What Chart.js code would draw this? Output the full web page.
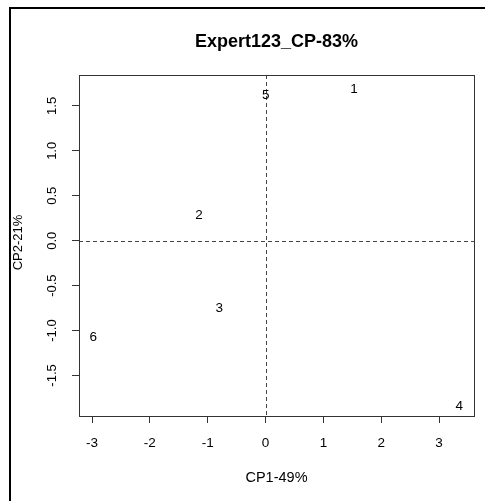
<!DOCTYPE html>
<html><head><meta charset="utf-8">
<script src="https://cdn.jsdelivr.net/npm/chart.js@4"></script>
<style>html,body{margin:0;padding:0;background:#fff;overflow:hidden}#wrap{width:485px;height:501px;position:relative}</style>
</head><body><div id="wrap"><canvas id="c" width="485" height="501"></canvas></div>
<script>
const pointLabels = ['1','2','3','4','5','6'];
const cp1 = [1.53, -1.15, -0.80, 3.35, 0.005, -2.98];
const cp2 = [1.69, 0.28, -0.75, -1.84, 1.62, -1.07];
const xTicks = [-3, -2, -1, 0, 1, 2, 3];
const yTicks = [-1.5, -1.0, -0.5, 0, 0.5, 1.0, 1.5];
const xRange = [-3.225, 3.604];
const yRange = [-1.951, 1.844];
const titleText = 'Expert123_CP-83%';
const xTitle = 'CP1-49%';
const yTitle = 'CP2-21%';

const FONT = '"Liberation Sans", Arial, sans-serif';
const TEXT = '#000';

const decor = {
  id: 'decor',
  beforeDraw(chart) {
    const ctx = chart.ctx;
    ctx.save();
    ctx.fillStyle = '#fff';
    ctx.fillRect(0, 0, chart.width, chart.height);
    ctx.strokeStyle = '#000';
    ctx.lineWidth = 2;
    ctx.beginPath();
    ctx.moveTo(10, chart.height + 2);
    ctx.lineTo(10, 8);
    ctx.lineTo(chart.width + 2, 8);
    ctx.stroke();
    ctx.restore();
  },
  afterDraw(chart) {
    const ctx = chart.ctx;
    const a = chart.chartArea;
    const xs = chart.scales.x, ys = chart.scales.y;
    ctx.save();
    ctx.strokeStyle = '#444';
    ctx.lineWidth = 1;
    ctx.setLineDash([4, 3]);
    const x0 = Math.round(xs.getPixelForValue(0)) + 0.5;
    const y0 = Math.round(ys.getPixelForValue(0)) + 0.5;
    ctx.beginPath();
    ctx.moveTo(x0, a.top); ctx.lineTo(x0, a.bottom);
    ctx.moveTo(a.left, y0); ctx.lineTo(a.right, y0);
    ctx.stroke();
    ctx.setLineDash([]);
    ctx.strokeStyle = '#333';
    ctx.strokeRect(Math.round(a.left) + 0.5, Math.round(a.top) + 0.5,
                   Math.round(a.right - a.left), Math.round(a.bottom - a.top));
    ctx.fillStyle = TEXT;
    ctx.font = '13px ' + FONT;
    ctx.textAlign = 'center';
    ctx.textBaseline = 'middle';
    ys.ticks.forEach(t => {
      const py = ys.getPixelForValue(t.value);
      ctx.save();
      ctx.translate(52, py);
      ctx.rotate(-Math.PI / 2);
      ctx.fillText(t.label, 0, 0);
      ctx.restore();
    });
    ctx.font = '13.5px ' + FONT;
    const meta = chart.getDatasetMeta(0);
    meta.data.forEach((el, i) => {
      ctx.fillText(pointLabels[i], el.x, el.y);
    });
    ctx.font = '14.5px ' + FONT;
    ctx.fillText(xTitle, (a.left + a.right) / 2, 478);
    ctx.font = '13px ' + FONT;
    ctx.save();
    ctx.translate(18, (a.top + a.bottom) / 2 - 3);
    ctx.rotate(-Math.PI / 2);
    ctx.fillText(yTitle, 0, 0);
    ctx.restore();
    ctx.font = 'bold 18px ' + FONT;
    ctx.fillText(titleText, (a.left + a.right) / 2, 42);
    ctx.restore();
  }
};

new Chart(document.getElementById('c'), {
  type: 'scatter',
  data: {
    datasets: [{
      data: cp1.map((v, i) => ({x: v, y: cp2[i]})),
      pointRadius: 0,
      pointHoverRadius: 0
    }]
  },
  options: {
    responsive: false,
    animation: false,
    devicePixelRatio: 1,
    layout: {padding: {left: 0, top: 75, right: 11, bottom: 0}},
    plugins: {legend: {display: false}, tooltip: {enabled: false}, title: {display: false}},
    scales: {
      x: {
        type: 'linear', min: xRange[0], max: xRange[1],
        afterBuildTicks: s => { s.ticks = xTicks.map(v => ({value: v})); },
        afterFit: s => { s.height = 85; },
        grid: {drawOnChartArea: false, drawTicks: true, tickLength: 7, color: '#333', lineWidth: 1},
        border: {display: false},
        ticks: {color: TEXT, font: {family: FONT, size: 13.5}, padding: 12, maxRotation: 0,
                callback: v => String(v)}
      },
      y: {
        type: 'linear', min: yRange[0], max: yRange[1],
        afterBuildTicks: s => { s.ticks = yTicks.map(v => ({value: v})); },
        afterFit: s => { s.width = 79; },
        grid: {drawOnChartArea: false, drawTicks: true, tickLength: 7, color: '#333', lineWidth: 1},
        border: {display: false},
        ticks: {display: false, callback: v => Number(v).toFixed(1)}
      }
    }
  },
  plugins: [decor]
});
</script>
</body></html>
